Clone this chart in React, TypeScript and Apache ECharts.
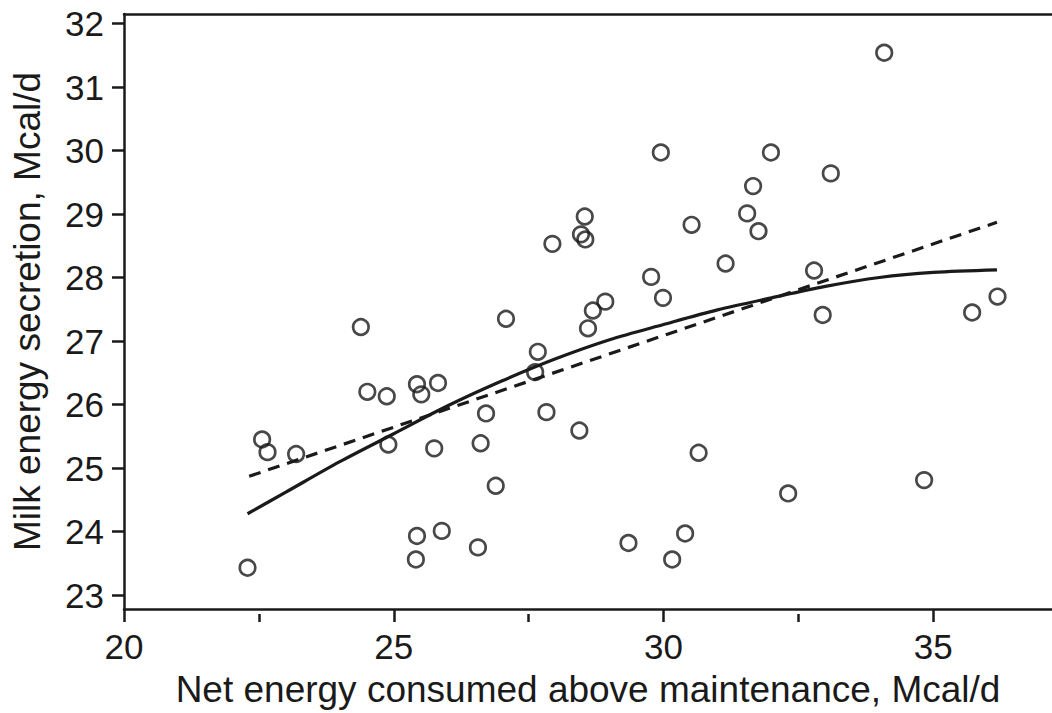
import React, { useEffect, useRef } from "react";
import * as echarts from "echarts";

// Observations
const energyConsumed = [22.29, 22.56, 22.66, 23.19, 24.39, 24.51, 24.87, 24.9, 25.43, 25.51, 25.82, 25.75, 25.43, 25.41, 25.89, 26.56, 26.61, 26.71, 26.89, 27.08, 27.67, 27.62, 27.83, 27.94, 28.44, 28.47, 28.54, 28.55, 28.6, 28.69, 28.92, 29.35, 29.77, 29.95, 29.99, 30.16, 30.4, 30.52, 30.65, 31.15, 31.55, 31.66, 31.76, 31.99, 32.31, 32.79, 32.95, 33.1, 34.09, 34.83, 35.72, 36.19];
const milkSecretion = [23.43, 25.45, 25.25, 25.22, 27.22, 26.2, 26.13, 25.37, 26.32, 26.16, 26.34, 25.31, 23.93, 23.56, 24.01, 23.75, 25.39, 25.86, 24.72, 27.35, 26.83, 26.51, 25.88, 28.53, 25.59, 28.68, 28.96, 28.6, 27.2, 27.48, 27.62, 23.82, 28.01, 29.97, 27.68, 23.56, 23.97, 28.83, 25.24, 28.22, 29.01, 29.44, 28.73, 29.97, 24.6, 28.11, 27.41, 29.64, 31.54, 24.81, 27.45, 27.7];

// Quadratic fit
const quadX = [22.29, 23, 24, 25, 26, 27, 28, 29, 30, 31, 32, 33, 34, 35, 36.18];
const quadY = [24.28, 24.62, 25.1, 25.54, 25.98, 26.37, 26.72, 27.02, 27.26, 27.49, 27.68, 27.86, 28.0, 28.08, 28.12];

// Linear fit
const linX = [22.32, 36.18];
const linY = [24.87, 28.87];

// Ticks
const xMajorTicks = [20, 25, 30, 35];
const xMinorTicks = [22.5, 27.5, 32.5];
const yTickValues = [23, 24, 25, 26, 27, 28, 29, 30, 31, 32];

const xTitle = "Net energy consumed above maintenance, Mcal/d";
const yTitle = "Milk energy secretion, Mcal/d";

const INK = "#1a1a1a";
const FONT = "Liberation Sans";

export default function App() {
  const ref = useRef<HTMLDivElement>(null);
  useEffect(() => {
    document.body.style.margin = "0";
    const chart = echarts.init(ref.current!, null, { renderer: "svg" });
    const zip = (xs: number[], ys: number[]) => xs.map((x, i) => [x, ys[i]]);
    const X_MIN = 20;
    const X_MAX = 37.2;
    chart.setOption({
      animation: false,
      backgroundColor: "#ffffff",
      grid: { left: 124, right: 0, top: 14, bottom: 99, containLabel: false },
      xAxis: [
        {
          type: "value",
          position: "bottom",
          min: X_MIN,
          max: X_MAX,
          interval: 5,
          name: xTitle,
          nameLocation: "middle",
          nameGap: 62,
          nameTextStyle: { fontFamily: FONT, fontSize: 37, color: INK },
          axisLine: { show: true, lineStyle: { color: INK, width: 2.5 } },
          axisTick: { show: true, length: 13, customValues: xMajorTicks, lineStyle: { color: INK, width: 2.5 } },
          axisLabel: { margin: 20, fontFamily: FONT, fontSize: 35, color: INK, customValues: xMajorTicks },
          splitLine: { show: false },
        },
        {
          type: "value",
          position: "top",
          min: X_MIN,
          max: X_MAX,
          interval: 5,
          axisLine: { show: true, lineStyle: { color: INK, width: 2.5 } },
          axisTick: { show: false },
          axisLabel: { show: false },
          splitLine: { show: false },
        },
        {
          type: "value",
          position: "top",
          offset: -600,
          min: X_MIN,
          max: X_MAX,
          interval: 5,
          axisLine: { show: false },
          axisTick: { show: true, inside: true, length: 8, customValues: xMinorTicks, lineStyle: { color: INK, width: 2.5 } },
          axisLabel: { show: false },
          splitLine: { show: false },
        },
      ],
      yAxis: {
        type: "value",
        min: 22.78,
        max: 32.15,
        splitNumber: 9,
        name: yTitle,
        nameLocation: "middle",
        nameGap: 78,
        nameTextStyle: { fontFamily: FONT, fontSize: 37, color: INK },
        axisLine: { show: true, lineStyle: { color: INK, width: 2.5 } },
        axisTick: { show: true, length: 12, customValues: yTickValues, lineStyle: { color: INK, width: 2.5 } },
        axisLabel: { margin: 20, fontFamily: FONT, fontSize: 35, color: INK, customValues: yTickValues },
        splitLine: { show: false },
      },
      series: [
        {
          type: "line",
          data: zip(linX, linY),
          showSymbol: false,
          symbol: "none",
          lineStyle: { color: INK, width: 3.2, type: [12, 8], cap: "butt" },
          z: 2,
        },
        {
          type: "line",
          data: zip(quadX, quadY),
          showSymbol: false,
          symbol: "none",
          smooth: 0.3,
          lineStyle: { color: INK, width: 3.2 },
          z: 3,
        },
        {
          type: "scatter",
          data: zip(energyConsumed, milkSecretion),
          symbol: "circle",
          symbolSize: 15.5,
          itemStyle: { color: "transparent", borderColor: INK, borderWidth: 2.7 },
          z: 4,
        },
      ],
    });
    return () => chart.dispose();
  }, []);
  return <div ref={ref} style={{ position: "fixed", left: 0, top: 0, width: 1052, height: 713 }} />;
}
